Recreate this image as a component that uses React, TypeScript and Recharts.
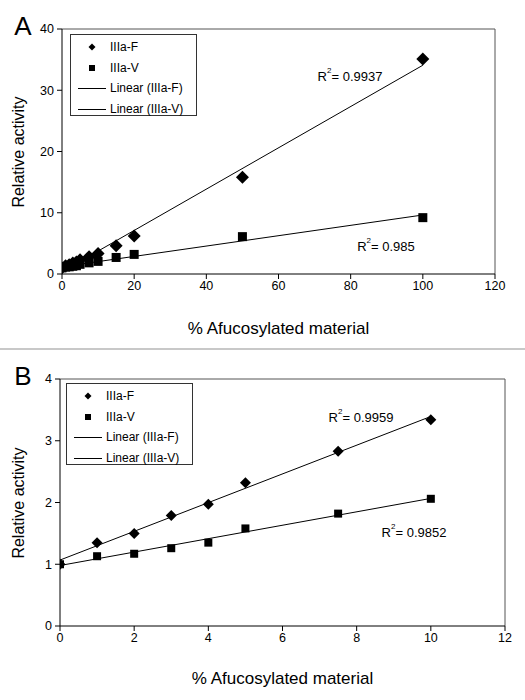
import React from "react";
import { ScatterChart, Scatter, XAxis, YAxis, ReferenceLine, Legend } from "recharts";

const FONT = "'Liberation Sans', Arial, Helvetica, sans-serif";

// % afucosylated material
const lowX = [0, 1, 2, 3, 4, 5, 7.5, 10];
const highX = [15, 20, 50, 100];

// relative activity, IIIa-F (158F) and IIIa-V (158V)
const lowF = [1.0, 1.35, 1.5, 1.79, 1.97, 2.32, 2.83, 3.34];
const lowV = [1.0, 1.13, 1.17, 1.26, 1.35, 1.58, 1.82, 2.06];
const highF = [4.6, 6.2, 15.8, 35.1];
const highV = [2.7, 3.2, 6.1, 9.2];

const ticksA_X = [0, 20, 40, 60, 80, 100, 120];
const ticksA_Y = [0, 10, 20, 30, 40];
const ticksB_X = [0, 2, 4, 6, 8, 10, 12];
const ticksB_Y = [0, 1, 2, 3, 4];

const r2A = ["0.9937", "0.985"];
const r2B = ["0.9959", "0.9852"];

const legendItems = ["IIIa-F", "IIIa-V", "Linear (IIIa-F)", "Linear (IIIa-V)"];

type Pt = { x: number; y: number };

const toPoints = (xs: number[], ys: number[]): Pt[] => xs.map((x, i) => ({ x, y: ys[i] }));

// least squares trendline, like the spreadsheet "Linear" trendline
function trend(pts: Pt[]): Pt[] {
  const n = pts.length;
  const mx = pts.reduce((s, p) => s + p.x, 0) / n;
  const my = pts.reduce((s, p) => s + p.y, 0) / n;
  let sxy = 0;
  let sxx = 0;
  pts.forEach((p) => {
    sxy += (p.x - mx) * (p.y - my);
    sxx += (p.x - mx) * (p.x - mx);
  });
  const b = sxy / sxx;
  const a = my - b * mx;
  const x0 = Math.min(...pts.map((p) => p.x));
  const x1 = Math.max(...pts.map((p) => p.x));
  return [
    { x: x0, y: a + b * x0 },
    { x: x1, y: a + b * x1 },
  ];
}

const Diamond = (size: number) => (props: any) => {
  const { cx, cy } = props;
  const r = size / 2;
  return <path d={`M${cx},${cy - r}L${cx + r},${cy}L${cx},${cy + r}L${cx - r},${cy}Z`} fill="#000" />;
};

const Square = (size: number) => (props: any) => {
  const { cx, cy } = props;
  return <rect x={cx - size / 2} y={cy - size / 2} width={size} height={size} fill="#000" />;
};

const NoDot = () => <g />;

function LegendBox() {
  return (
    <div
      style={{
        border: "1px solid #333",
        background: "#fff",
        width: 127,
        height: 82,
        fontFamily: FONT,
        fontSize: 12,
        color: "#000",
        boxSizing: "border-box",
        paddingTop: 2,
      }}
    >
      {legendItems.map((label, i) => (
        <div key={label} style={{ display: "flex", alignItems: "center", height: 20.5 }}>
          <svg width={38} height={14} style={{ flex: "none" }}>
            {i === 0 && <path d="M21,3.5L24.5,7L21,10.5L17.5,7Z" fill="#000" />}
            {i === 1 && <rect x={18} y={4} width={6} height={6} fill="#000" />}
            {i >= 2 && <line x1={7} x2={35} y1={7.5} y2={7.5} stroke="#000" strokeWidth={1} />}
          </svg>
          <span style={{ marginLeft: 1 }}>{label}</span>
        </div>
      ))}
    </div>
  );
}

interface PanelProps {
  letter: string;
  F: Pt[];
  V: Pt[];
  xTicks: number[];
  yTicks: number[];
  yAxisWidth: number;
  marginRight: number;
  xAxisHeight: number;
  legendPos: { left: number; top: number };
  r2: string[];
  r2Pos: { x: number; y: number }[];
  dSize: number;
  sSize: number;
}

function Panel({
  letter,
  F,
  V,
  xTicks,
  yTicks,
  yAxisWidth,
  marginRight,
  xAxisHeight,
  legendPos,
  r2,
  r2Pos,
  dSize,
  sSize,
}: PanelProps) {
  const xMax = xTicks[xTicks.length - 1];
  const yMax = yTicks[yTicks.length - 1];
  const plotLeft = yAxisWidth;
  const plotRight = 525 - marginRight;
  const plotTop = 29;
  const plotBottom = 350 - xAxisHeight;
  const tickStyle = { fill: "#000", fontSize: 12.5, fontFamily: FONT };
  return (
    <div style={{ position: "relative", width: 525, height: 350 }}>
      <ScatterChart width={525} height={350} margin={{ top: plotTop, right: marginRight, left: 0, bottom: 0 }}>
        <XAxis
          type="number"
          dataKey="x"
          domain={[0, xMax]}
          ticks={xTicks}
          height={xAxisHeight}
          stroke="#000"
          tickSize={5}
          tickMargin={2}
          tick={tickStyle}
          tickLine={{ stroke: "#000" }}
          allowDataOverflow
        />
        <YAxis
          type="number"
          dataKey="y"
          domain={[0, yMax]}
          ticks={yTicks}
          width={yAxisWidth}
          stroke="#000"
          tickSize={5}
          tickMargin={3}
          tick={tickStyle}
          tickLine={{ stroke: "#000" }}
          allowDataOverflow
        />
        <ReferenceLine y={yMax} stroke="#555" strokeWidth={1} />
        <ReferenceLine x={xMax} stroke="#555" strokeWidth={1} />
        <Legend
          layout="vertical"
          align="center"
          verticalAlign="middle"
          wrapperStyle={{ left: legendPos.left, top: legendPos.top, width: 127 }}
          content={() => <LegendBox />}
        />
        <Scatter name="Linear (IIIa-F)" data={trend(F)} line={{ stroke: "#000", strokeWidth: 1 }} shape={NoDot} legendType="none" isAnimationActive={false} />
        <Scatter name="Linear (IIIa-V)" data={trend(V)} line={{ stroke: "#000", strokeWidth: 1 }} shape={NoDot} legendType="none" isAnimationActive={false} />
        <Scatter name="IIIa-V" data={V} shape={Square(sSize)} isAnimationActive={false} />
        <Scatter name="IIIa-F" data={F} shape={Diamond(dSize)} isAnimationActive={false} />
      </ScatterChart>

      <div
        style={{
          position: "absolute",
          left: 23,
          top: 26,
          transform: "translate(-50%, -50%)",
          fontFamily: FONT,
          fontSize: 26,
          lineHeight: 1,
          color: "#000",
        }}
      >
        {letter}
      </div>
      <div
        style={{
          position: "absolute",
          left: 19,
          top: (plotTop + plotBottom) / 2,
          transform: "translate(-50%, -50%) rotate(-90deg)",
          fontFamily: FONT,
          fontSize: 16,
          whiteSpace: "nowrap",
          color: "#000",
        }}
      >
        Relative activity
      </div>
      <div
        style={{
          position: "absolute",
          left: (plotLeft + plotRight) / 2,
          top: 329,
          transform: "translate(-50%, -50%)",
          fontFamily: FONT,
          fontSize: 17,
          whiteSpace: "nowrap",
          color: "#000",
        }}
      >
        % Afucosylated material
      </div>
      {r2.map((v, i) => (
        <div
          key={v}
          style={{
            position: "absolute",
            left: r2Pos[i].x,
            top: r2Pos[i].y,
            transform: "translate(-50%, -50%)",
            fontFamily: FONT,
            fontSize: 13,
            whiteSpace: "nowrap",
            color: "#000",
            lineHeight: 1,
          }}
        >
          R<sup style={{ fontSize: 8, verticalAlign: "top", position: "relative", top: -3 }}>2</sup>= {v}
        </div>
      ))}
    </div>
  );
}

export default function App() {
  const FA = toPoints([...lowX, ...highX], [...lowF, ...highF]);
  const VA = toPoints([...lowX, ...highX], [...lowV, ...highV]);
  const FB = toPoints(lowX, lowF);
  const VB = toPoints(lowX, lowV);
  return (
    <div style={{ position: "absolute", left: 0, top: 0, width: 525, height: 700, background: "#fff" }}>
      <Panel
        letter="A"
        F={FA}
        V={VA}
        xTicks={ticksA_X}
        yTicks={ticksA_Y}
        yAxisWidth={62}
        marginRight={30}
        xAxisHeight={76}
        legendPos={{ left: 70, top: 34 }}
        r2={r2A}
        r2Pos={[
          { x: 350, y: 76 },
          { x: 386, y: 246 },
        ]}
        dSize={13}
        sSize={9}
      />
      <div style={{ position: "absolute", left: 0, top: 348, width: 525, height: 2, background: "#c8c8c8" }} />
      <div style={{ position: "absolute", left: 0, top: 350 }}>
        <Panel
          letter="B"
          F={FB}
          V={VB}
          xTicks={ticksB_X}
          yTicks={ticksB_Y}
          yAxisWidth={60}
          marginRight={20}
          xAxisHeight={74}
          legendPos={{ left: 66, top: 33 }}
          r2={r2B}
          r2Pos={[
            { x: 361, y: 67 },
            { x: 414, y: 182 },
          ]}
          dSize={11}
          sSize={8}
        />
      </div>
    </div>
  );
}
